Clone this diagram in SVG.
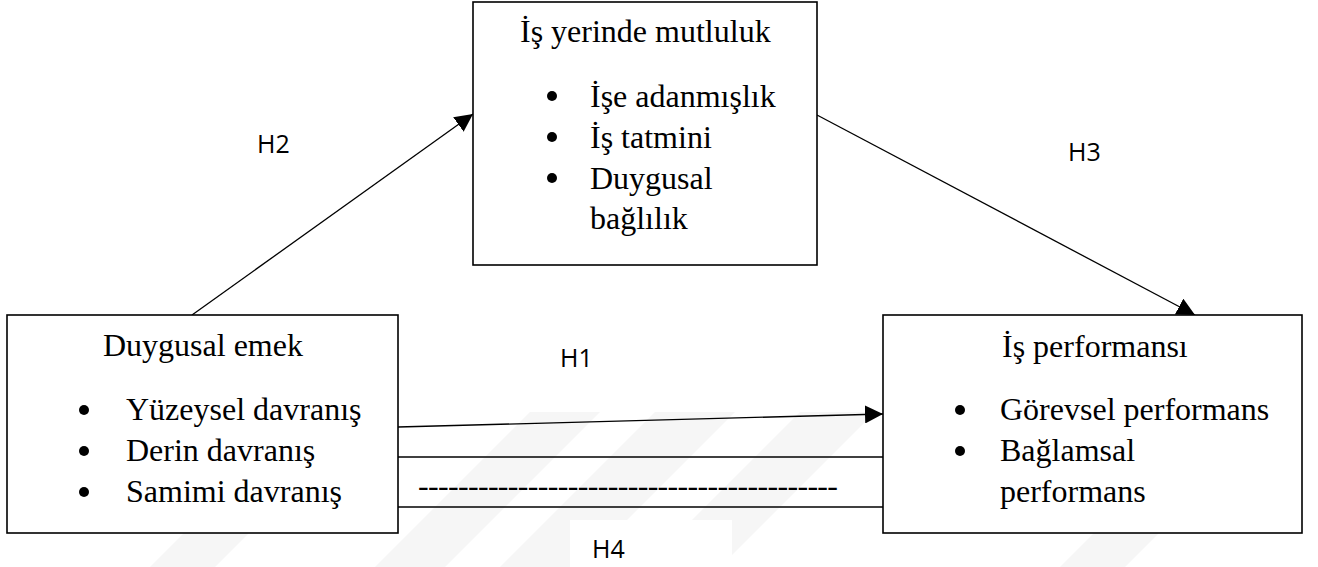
<svg xmlns="http://www.w3.org/2000/svg" width="1318" height="567" viewBox="0 0 1318 567">
  <style>
    .box { fill: #ffffff; stroke: #000000; stroke-width: 1.6; }
    .link { fill: none; stroke: #000000; stroke-width: 1.3; }
    .title, .item { font-family: "Liberation Serif", "Times New Roman", serif; font-size: 32px; fill: #000000; }
    .hyp { font-family: "Open Sans", "Liberation Sans", sans-serif; font-size: 25px; fill: #000000; }
    .dot { fill: #000000; }
    .mark { fill: #f6f6f6; }
  </style>
  <defs>
    <marker id="arrow" viewBox="0 0 10 10" refX="10" refY="5" markerWidth="18" markerHeight="18" markerUnits="userSpaceOnUse" orient="auto">
      <path d="M0,0 L10,5 L0,10 Z" fill="#000000"/>
    </marker>
  </defs>

  <rect width="1318" height="567" fill="#ffffff"/>

  <!-- faint background watermark stripes -->
  <g id="watermark">
    <polygon class="mark" points="150,567 215,567 370,412 305,412"/>
    <polygon class="mark" points="375,567 445,567 600,412 530,412"/>
    <polygon class="mark" points="500,567 580,567 735,412 655,412"/>
    <polygon class="mark" points="645,567 720,567 875,412 800,412"/>
    <polygon class="mark" points="1060,567 1125,567 1280,412 1215,412"/>
  </g>

  <!-- connectors -->
  <g id="connectors">
    <line class="link" x1="192" y1="315" x2="473" y2="114" marker-end="url(#arrow)"/>
    <line class="link" x1="817" y1="115" x2="1195" y2="315" marker-end="url(#arrow)"/>
    <line class="link" x1="398" y1="427" x2="883" y2="414" marker-end="url(#arrow)"/>
    <line class="link" x1="398" y1="457" x2="883" y2="457"/>
    <line class="link" x1="398" y1="507" x2="883" y2="507"/>
    <text class="title" x="418" y="496" textLength="420" lengthAdjust="spacing">------------------------------------------</text>
  </g>

  <!-- hypothesis labels -->
  <g id="labels">
    <text class="hyp" x="257" y="153">H2</text>
    <text class="hyp" x="1068" y="161">H3</text>
    <text class="hyp" x="560" y="367">H1</text>
    <rect x="570" y="520" width="162" height="47" fill="#ffffff"/>
    <text class="hyp" x="592" y="558">H4</text>
  </g>

  <!-- mediator: happiness at work -->
  <g id="node-mutluluk">
    <rect class="box" x="473" y="2" width="344" height="263"/>
    <text class="title" x="520" y="42">İş yerinde mutluluk</text>
    <circle class="dot" cx="552" cy="96" r="5"/>
    <text class="item" x="590" y="107">İşe adanmışlık</text>
    <circle class="dot" cx="552" cy="137" r="5"/>
    <text class="item" x="590" y="148">İş tatmini</text>
    <circle class="dot" cx="552" cy="178" r="5"/>
    <text class="item" x="590" y="189">Duygusal</text>
    <text class="item" x="590" y="229">bağlılık</text>
  </g>

  <!-- independent variable: emotional labour -->
  <g id="node-emek">
    <rect class="box" x="7" y="315" width="391" height="218"/>
    <text class="title" x="103" y="356">Duygusal emek</text>
    <circle class="dot" cx="84" cy="410" r="5"/>
    <text class="item" x="126" y="420">Yüzeysel davranış</text>
    <circle class="dot" cx="84" cy="451" r="5"/>
    <text class="item" x="126" y="461">Derin davranış</text>
    <circle class="dot" cx="84" cy="492" r="5"/>
    <text class="item" x="126" y="502">Samimi davranış</text>
  </g>

  <!-- dependent variable: job performance -->
  <g id="node-performans">
    <rect class="box" x="883" y="315" width="419" height="218"/>
    <text class="title" x="1002" y="357">İş performansı</text>
    <circle class="dot" cx="960" cy="410" r="5"/>
    <text class="item" x="1000" y="420">Görevsel performans</text>
    <circle class="dot" cx="960" cy="451" r="5"/>
    <text class="item" x="1000" y="461">Bağlamsal</text>
    <text class="item" x="1000" y="502">performans</text>
  </g>
</svg>
